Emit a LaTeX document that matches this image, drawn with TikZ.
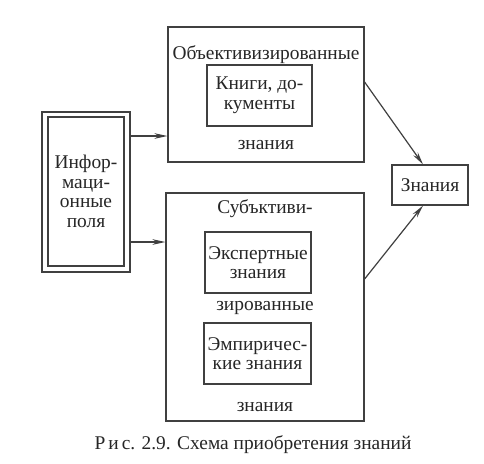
\documentclass[tikz,border=0pt]{standalone}
\usepackage{fontspec}
\setmainfont{Liberation Serif}
\usetikzlibrary{arrows.meta}

\begin{document}
\begin{tikzpicture}[x=0.5pt, y=-0.5pt,
  every node/.style={font=\fontsize{9.7}{9.8}\selectfont, inner sep=0pt, text=black!85},
  box/.style={draw=black!75, line width=0.6pt, rectangle},
  arr/.style={-{Stealth[length=6.5pt, width=2.8pt]}, draw=black!75, line width=0.6pt}]
  \useasboundingbox[fill=white] (0,0) rectangle (484,463);
  % information fields (double frame)
  \node[box, minimum width=44pt, minimum height=80pt] (info) at (86,192) {};
  \node[box, minimum width=38pt, minimum height=74.5pt, align=center] (infoin) at (86,191.5)
    {Инфор-\\маци-\\онные\\поля};
  % objectivized knowledge
  \node[box, minimum width=98pt, minimum height=67.5pt] (obj) at (266,94.5) {};
  \node (objtop) at (266,55) {Объективизированные};
  \node[box, minimum width=52.5pt, minimum height=30.5pt, align=center] (books) at (259.5,95.5)
    {Книги, до-\\кументы};
  \node (objbot) at (266,145) {знания};
  % subjectivized knowledge
  \node[box, minimum width=99pt, minimum height=114pt] (subj) at (265,307) {};
  \node (subjtop) at (265,209) {Субъктиви-};
  \node[box, minimum width=53pt, minimum height=30.5pt, align=center] (expert) at (258,262.5)
    {Экспертные\\знания};
  \node (subjmid) at (265,308) {зированные};
  \node[box, minimum width=53.5pt, minimum height=30.5pt, align=center] (empir) at (257.5,353.5)
    {Эмпиричес-\\кие знания};
  \node (subjbot) at (265,407) {знания};
  % knowledge
  \node[box, minimum width=38pt, minimum height=20pt] (know) at (430,185) {Знания};
  % connectors
  \draw[arr] (info.east |- 0,136) -- (obj.west |- 0,136);
  \draw[arr] (info.east |- 0,242) -- (subj.west |- 0,242);
  \draw[arr] (obj.east |- 0,82) -- (know.north -| 423,0);
  \draw[arr] (subj.east |- 0,279) -- (know.south -| 423,0);
  % caption
  \node (caption) at (253,445) {Р\kern1.5pt и\kern1.5pt с. 2.9. Схема приобретения знаний};
\end{tikzpicture}
\end{document}
